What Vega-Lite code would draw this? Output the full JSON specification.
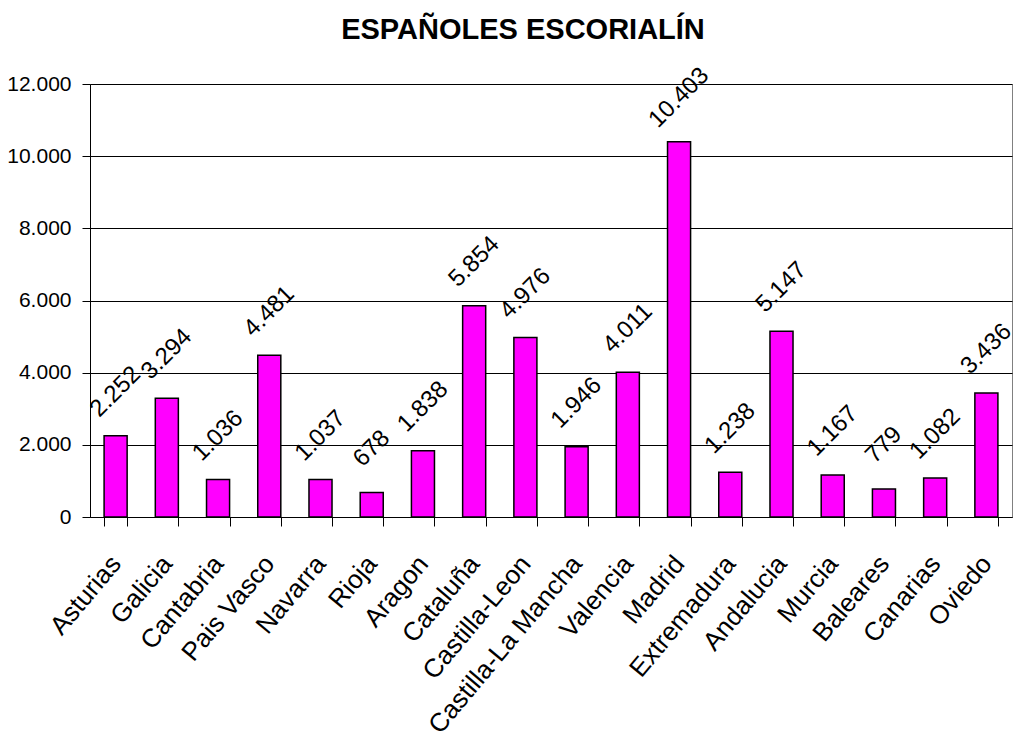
{
  "$schema": "https://vega.github.io/schema/vega-lite/v6.json",
  "width": 922,
  "height": 433,
  "autosize": {"type": "none"},
  "padding": {"left": 90, "top": 84, "right": 4, "bottom": 221},
  "title": {
    "text": "ESPAÑOLES ESCORIALÍN",
    "fontSize": 29,
    "font": "Liberation Sans",
    "fontWeight": "bold",
    "color": "black",
    "anchor": "middle",
    "frame": "group",
    "baseline": "alphabetic",
    "offset": -5,
    "dx": -28
  },
  "data": {
    "values": [
      {"region": "Asturias", "value": 2252},
      {"region": "Galicia", "value": 3294},
      {"region": "Cantabria", "value": 1036},
      {"region": "Pais Vasco", "value": 4481},
      {"region": "Navarra", "value": 1037},
      {"region": "Rioja", "value": 678},
      {"region": "Aragon", "value": 1838},
      {"region": "Cataluña", "value": 5854},
      {"region": "Castilla-Leon", "value": 4976},
      {"region": "Castilla-La Mancha", "value": 1946},
      {"region": "Valencia", "value": 4011},
      {"region": "Madrid", "value": 10403},
      {"region": "Extremadura", "value": 1238},
      {"region": "Andalucia", "value": 5147},
      {"region": "Murcia", "value": 1167},
      {"region": "Baleares", "value": 779},
      {"region": "Canarias", "value": 1082},
      {"region": "Oviedo", "value": 3436}
    ]
  },
  "encoding": {
    "x": {
      "field": "region",
      "type": "nominal",
      "sort": null,
      "scale": {"paddingInner": 0.55, "paddingOuter": 0.275},
      "axis": {
        "title": null,
        "labelAngle": -50,
        "labelAlign": "right",
        "labelBaseline": "middle",
        "labelFontSize": 26,
        "labelFont": "Liberation Sans",
        "labelColor": "black",
        "labelPadding": 33,
        "labelDx": -4.5,
        "labelDy": -5.4,
        "labelLimit": 400,
        "labelOverlap": false,
        "labelBound": false,
        "labelFlush": false,
        "tickBand": "extent",
        "tickSize": 9,
        "tickColor": "black",
        "domainColor": "black"
      }
    },
    "y": {
      "field": "value",
      "type": "quantitative",
      "scale": {"domain": [0, 12000], "nice": false},
      "axis": {
        "title": null,
        "values": [0, 2000, 4000, 6000, 8000, 10000, 12000],
        "format": ",d",
        "labelFontSize": 21,
        "labelFont": "Liberation Sans",
        "labelColor": "black",
        "labelPadding": 11,
        "tickSize": 8,
        "tickColor": "black",
        "domainColor": "black",
        "grid": true,
        "gridColor": "black",
        "gridOpacity": 1
      }
    }
  },
  "layer": [
    {
      "mark": {"type": "bar", "fill": "#FF00FF", "stroke": "black", "strokeWidth": 1.5}
    },
    {
      "mark": {
        "type": "text",
        "angle": -45,
        "align": "center",
        "baseline": "middle",
        "dx": 31,
        "dy": -31,
        "fontSize": 24,
        "font": "Liberation Sans",
        "color": "black"
      },
      "encoding": {
        "text": {"field": "value", "type": "quantitative", "format": ",d"}
      }
    }
  ],
  "config": {
    "locale": {
      "number": {"decimal": ",", "thousands": ".", "grouping": [3], "currency": ["", " €"]}
    },
    "view": {"stroke": "#808080"},
    "font": "Liberation Sans"
  }
}
